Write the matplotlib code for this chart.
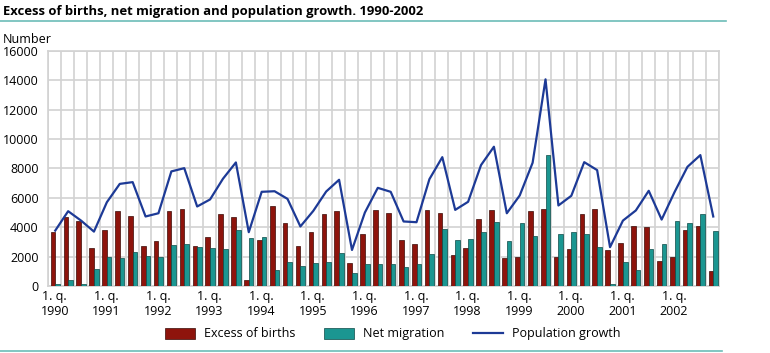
import matplotlib
matplotlib.use("Agg")
import matplotlib.pyplot as plt
import numpy as np
from matplotlib.patches import Patch
from matplotlib.lines import Line2D

plt.rcParams['font.family'] = ['Open Sans', 'DejaVu Sans']

years = list(range(1990, 2003))

# quarterly values, 1990 Q1 .. 2002 Q4
excess_births = [3700, 4700, 4390, 2550, 3820, 5070, 4770, 2700,
                 3070, 5090, 5230, 2750, 3300, 4910, 4680, 410,
                 3160, 5430, 4320, 2700, 3660, 4910, 5090, 1570,
                 3520, 5200, 4980, 3140, 2860, 5160, 4950, 2090,
                 2570, 4590, 5200, 1910, 1980, 5090, 5230, 1980,
                 2520, 4930, 5250, 2480, 2910, 4090, 4000, 1700,
                 1980, 3800, 4070, 1020]
net_migration = [100, 410, 100, 1180, 1950, 1890, 2340, 2020,
                 1950, 2770, 2840, 2660, 2590, 2500, 3820, 3270,
                 3320, 1090, 1660, 1360, 1570, 1640, 2230, 910,
                 1480, 1520, 1500, 1270, 1500, 2160, 3890, 3110,
                 3200, 3660, 4360, 3070, 4300, 3390, 8950, 3520,
                 3640, 3570, 2660, 160, 1610, 1090, 2500, 2860,
                 4430, 4300, 4910, 3750]
pop_growth = [3770, 5090, 4450, 3700, 5700, 6950, 7070, 4730,
              4950, 7800, 8020, 5410, 5890, 7300, 8410, 3660,
              6410, 6450, 5930, 4050, 5110, 6430, 7230, 2450,
              5000, 6680, 6410, 4390, 4340, 7270, 8770, 5180,
              5730, 8230, 9480, 4950, 6160, 8390, 14070, 5480,
              6140, 8430, 7890, 2640, 4450, 5140, 6480, 4520,
              6390, 8110, 8910, 4730]

red = "#8e140c"
teal = "#1b9691"
navy = "#1d3a96"
grid_c = "#d2d2d2"

fig = plt.figure(figsize=(7.7, 3.53), dpi=100)
ax = fig.add_axes([0.0627, 0.19, 0.8713, 0.6655])

x = np.arange(len(excess_births))
w = 0.36
ax.bar(x - 0.14, excess_births, w, color=red, edgecolor="#3a0a06", linewidth=0.5, zorder=3)
ax.bar(x + 0.22, net_migration, w, color=teal, edgecolor="#0d4a47", linewidth=0.5, zorder=3)
ax.plot(x + 0.04, pop_growth, color=navy, linewidth=1.6, zorder=4)

ax.set_xlim(-0.5, len(x) - 0.5)
ax.set_ylim(0, 16000)
ax.set_yticks(np.arange(0, 16001, 2000))
ax.set_yticklabels([str(v) for v in range(0, 16001, 2000)], fontsize=9)
ax.set_xticks(np.arange(0, len(x), 4))
ax.set_xticklabels(["1. q.\n%d" % y for y in years], fontsize=9, linespacing=1.2)
ax.set_xticks(np.arange(-0.5, len(x), 1), minor=True)
ax.tick_params(axis="y", length=0, pad=7)
ax.tick_params(axis="x", length=0, pad=3)
ax.tick_params(axis="x", which="minor", length=0)
ax.grid(axis="y", color=grid_c, linewidth=1.2, zorder=0)
ax.grid(axis="x", which="minor", color=grid_c, linewidth=1.2, zorder=0)
ax.grid(axis="x", which="major", visible=False)
for s in ax.spines.values():
    s.set_color(grid_c)
    s.set_linewidth(1.2)

fig.text(0.004, 0.968, "Excess of births, net migration and population growth. 1990-2002",
         fontsize=9.4, fontweight="bold", va="center", ha="left")
fig.add_artist(Line2D([0, 0.943], [0.94, 0.94], color="#6cbcb8", linewidth=1.2))
fig.add_artist(Line2D([0, 0.938], [0.006, 0.006], color="#6cbcb8", linewidth=1.2))
fig.text(0.004, 0.887, "Number", fontsize=9, va="center", ha="left")

handles = [Patch(facecolor=red, edgecolor="#3a0a06", linewidth=0.5, label="Excess of births"),
           Patch(facecolor=teal, edgecolor="#0d4a47", linewidth=0.5, label="Net migration"),
           Line2D([0], [0], color=navy, linewidth=1.6, label="Population growth")]
fig.legend(handles=handles, loc="center", bbox_to_anchor=(0.51, 0.054), ncol=3,
           frameon=False, fontsize=9, handlelength=2.4, handleheight=1.0,
           columnspacing=2.3, handletextpad=0.7)

fig.savefig("out.png", dpi=100)
